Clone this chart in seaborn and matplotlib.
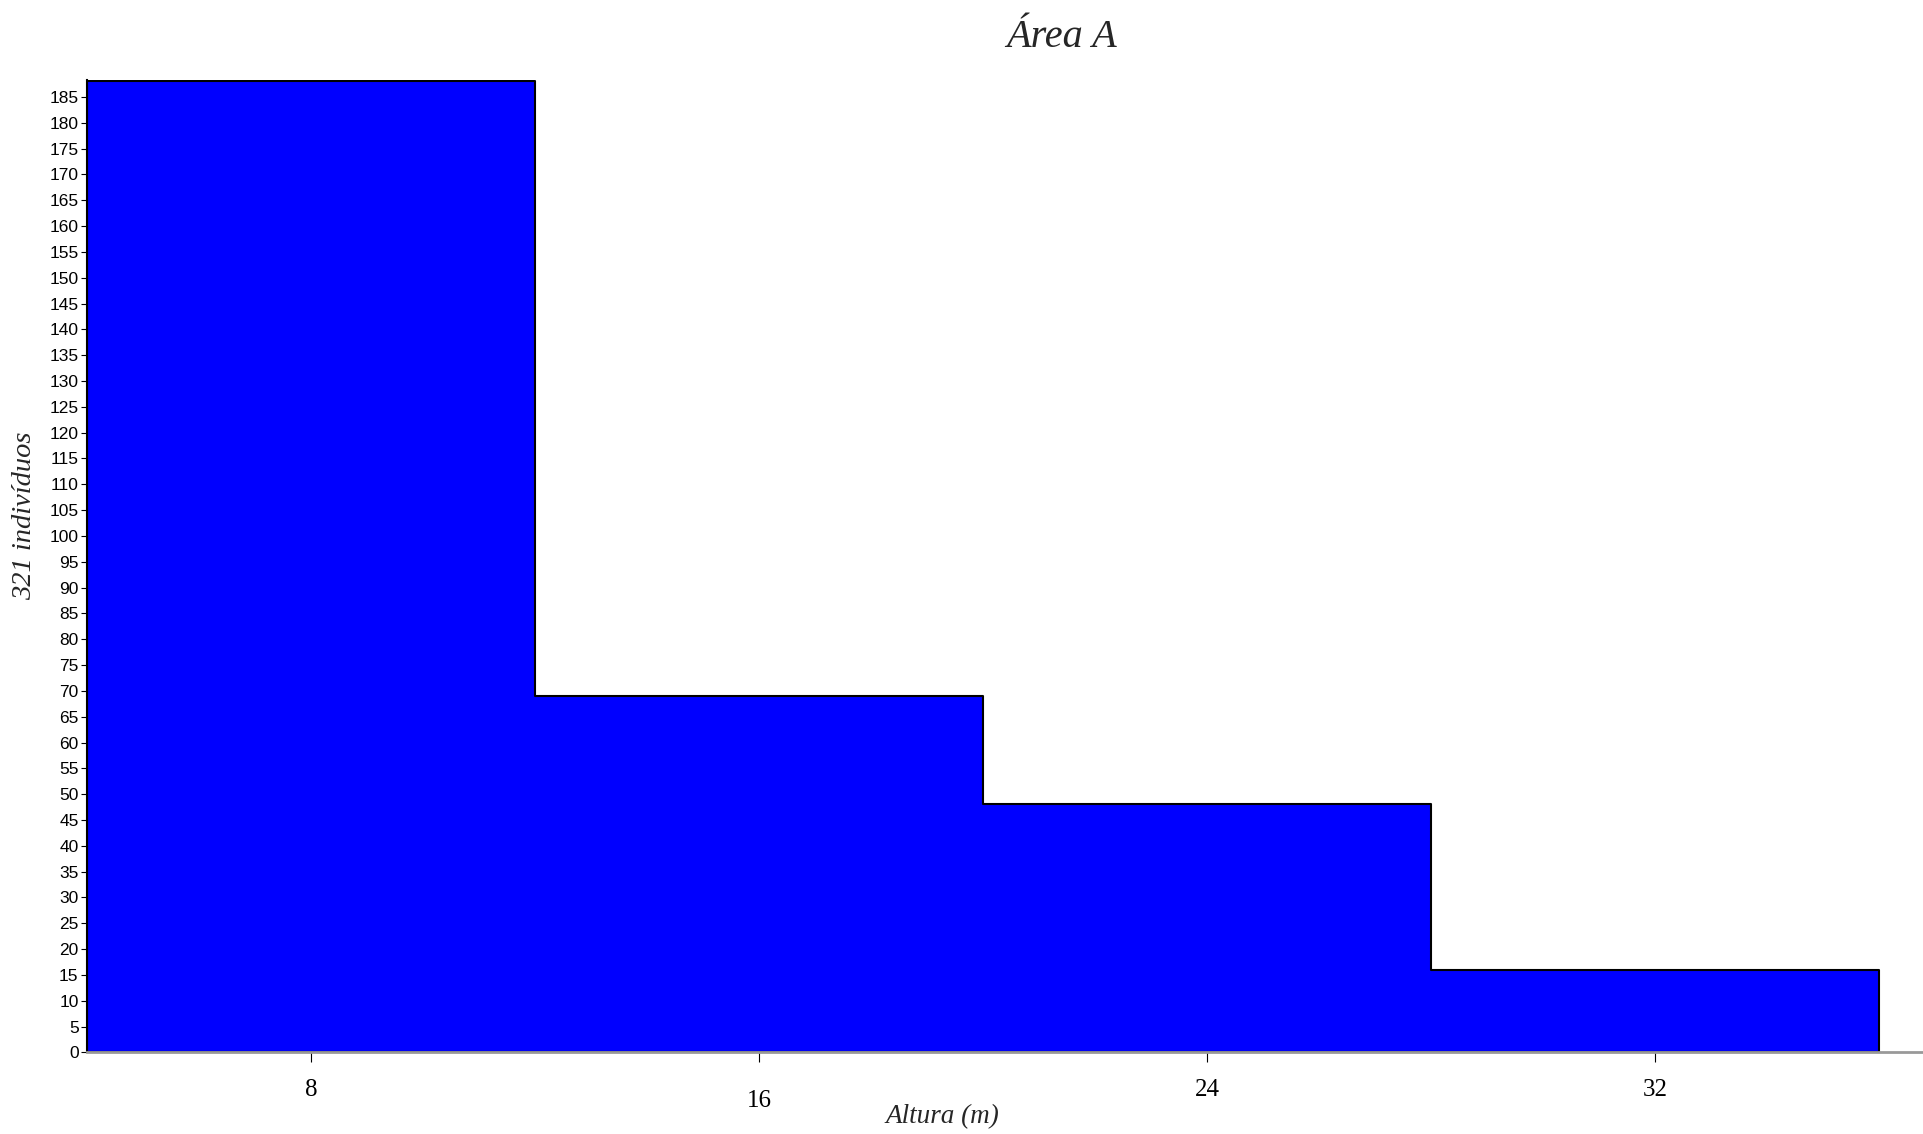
import numpy as np
import matplotlib
matplotlib.use("Agg")
import matplotlib.pyplot as plt
import seaborn as sns

# Height classes (m) and number of individuals per class
bin_edges = [4, 12, 20, 28, 36]
bin_centers = [8, 16, 24, 32]
counts = [188, 69, 48, 16]
x_ticks = [8, 16, 24, 32]
y_ticks = list(range(0, 190, 5))

sns.set_style("white")
serif = ["Liberation Serif", "DejaVu Serif"]
sans = ["Liberation Sans", "DejaVu Sans"]

fig = plt.figure(figsize=(19.23, 11.34), dpi=100)
ax = fig.add_axes([0.0452, 0.072, 0.9548, 0.8575])

# step element: filled outline without inner bar edges, as in the original
sns.histplot(
    x=bin_centers, weights=counts, bins=bin_edges, element="step",
    color="#0000FF", alpha=1.0, edgecolor="black", linewidth=1.5, ax=ax,
)

ax.set_xlim(4, 36.78)
ax.set_ylim(0, 188.3)
ax.set_xticks(x_ticks)
ax.set_xticklabels([str(t) for t in x_ticks], fontfamily=serif, fontsize=18)
ax.set_yticks(y_ticks)
ax.set_yticklabels([str(t) for t in y_ticks], fontfamily=sans, fontsize=12.5)
ax.tick_params(axis="y", left=True, length=4, width=0.8, pad=2, colors="black")
ax.tick_params(axis="x", bottom=True, length=7, width=0.8, pad=12, colors="black")
ax.get_xticklabels()[1].set_y(-0.012)

for side in ["top", "right"]:
    ax.spines[side].set_visible(False)
ax.spines["left"].set_color("black")
ax.spines["left"].set_linewidth(1.5)
ax.spines["bottom"].set_color("#999999")
ax.spines["bottom"].set_linewidth(2)
ax.set_xlabel("")
ax.set_ylabel("")

fig.text(0.552, 0.967, "Área A", ha="center", va="center",
         fontfamily=serif, fontstyle="italic", fontsize=29)
fig.text(0.49, 0.015, "Altura (m)", ha="center", va="center",
         fontfamily=serif, fontstyle="italic", fontsize=19.5)
fig.text(0.013, 0.545, "321 indivíduos", ha="center", va="center",
         rotation=90, fontfamily=serif, fontstyle="italic", fontsize=20.5)

fig.savefig("out.png", dpi=100)
